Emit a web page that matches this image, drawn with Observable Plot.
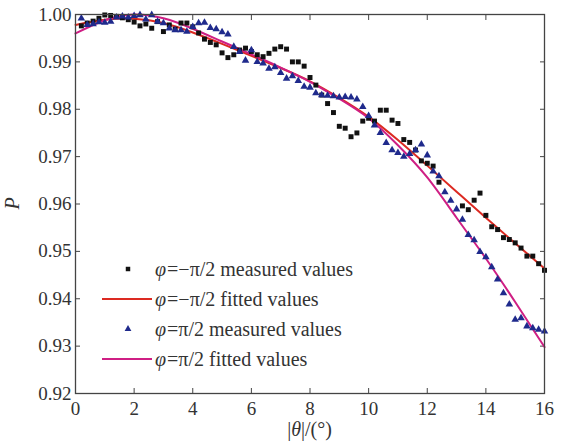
<!DOCTYPE html>
<html><head><meta charset="utf-8">
<script src="https://cdn.jsdelivr.net/npm/d3@7"></script>
<script src="https://cdn.jsdelivr.net/npm/@observablehq/plot@0.6"></script>
<style>
html,body{margin:0;padding:0;background:#fff;}
#chart{position:relative;width:563px;height:444px;font-family:"Liberation Serif","Times New Roman",serif;color:#333;}
#legend{position:absolute;left:98px;top:254px;font-size:20px;}
#legend .row{display:flex;align-items:center;height:30px;white-space:nowrap;}
#legend svg{flex:none;}
#legend span{margin-left:1px;}
</style>
</head><body>
<div id="chart"><div id="legend"></div></div>
<script>
// tick values
const xTicks = [0, 2, 4, 6, 8, 10, 12, 14, 16];
const yTicks = [0.92, 0.93, 0.94, 0.95, 0.96, 0.97, 0.98, 0.99, 1.00];

// φ = −π/2 measured values
const negX = [0.2,0.4,0.6,0.8,1.0,1.2,1.4,1.6,1.8,2.0,
  2.2,2.4,2.6,2.8,3.0,3.2,3.4,3.6,3.8,4.0,
  4.2,4.4,4.6,4.8,5.0,5.2,5.4,5.6,5.8,6.0,
  6.2,6.4,6.6,6.8,7.0,7.2,7.4,7.6,7.8,8.0,
  8.2,8.4,8.6,8.8,9.0,9.2,9.4,9.6,9.8,10.0,
  10.2,10.4,10.6,10.8,11.0,11.2,11.4,11.6,11.8,12.0,
  12.2,12.4,13.2,13.4,13.6,13.8,14.0,14.2,14.4,14.6,
  14.8,15.0,15.2,15.4,15.6,15.8,16.0];
const negP = [0.9976,0.9982,0.9986,0.9992,0.9999,0.9998,0.9996,0.9993,0.9989,0.9984,
  0.9976,0.9980,0.9971,0.9985,0.9964,0.9978,0.9969,0.9982,0.9982,0.9974,
  0.9961,0.9948,0.9941,0.9936,0.9919,0.9909,0.9915,0.9925,0.9929,0.9922,
  0.9915,0.9911,0.9918,0.9927,0.9932,0.9927,0.9900,0.9900,0.9891,0.9867,
  0.9851,0.9830,0.9812,0.9793,0.9764,0.9760,0.9742,0.9750,0.9775,0.9781,
  0.9775,0.9798,0.9798,0.9777,0.9770,0.9736,0.9730,0.9714,0.9691,0.9686,
  0.9680,0.9646,0.9596,0.9588,0.9608,0.9623,0.9576,0.9552,0.9546,0.9529,
  0.9525,0.9518,0.9507,0.9490,0.9490,0.9474,0.9460];

// φ = π/2 measured values
const posX = [0.2,0.4,0.6,0.8,1.0,1.2,1.4,1.6,1.8,2.0,
  2.2,2.4,2.6,2.8,3.0,3.2,3.4,3.6,3.8,4.0,
  4.2,4.4,4.6,4.8,5.0,5.2,5.4,5.6,5.8,6.0,
  6.2,6.4,6.6,6.8,7.0,7.2,7.4,7.6,7.8,8.0,
  8.2,8.4,8.6,8.8,9.0,9.2,9.4,9.6,9.8,10.0,
  10.2,10.4,10.6,10.8,11.0,11.2,11.4,11.6,11.8,12.0,
  12.2,12.4,12.6,12.8,13.0,13.2,13.4,13.6,13.8,14.0,
  14.2,14.4,14.6,14.8,15.0,15.2,15.4,15.6,15.8,16.0];
const posP = [0.9992,0.9978,0.9980,0.9984,0.9983,0.9985,0.9994,0.9996,0.9994,0.9997,
  0.9999,0.9990,0.9999,0.9985,0.9982,0.9971,0.9967,0.9967,0.9964,0.9974,
  0.9982,0.9983,0.9972,0.9969,0.9963,0.9958,0.9932,0.9921,0.9903,0.9925,
  0.9900,0.9897,0.9886,0.9889,0.9877,0.9865,0.9870,0.9860,0.9848,0.9846,
  0.9834,0.9830,0.9829,0.9828,0.9825,0.9826,0.9825,0.9821,0.9805,0.9786,
  0.9766,0.9750,0.9729,0.9714,0.9708,0.9700,0.9706,0.9714,0.9726,0.9703,
  0.9669,0.9659,0.9625,0.9607,0.9589,0.9567,0.9535,0.9524,0.9499,0.9488,
  0.9467,0.9441,0.9412,0.9388,0.9356,0.9359,0.9342,0.9338,0.9335,0.9331];

// fitted curves, read at whole degrees
const fitX = [0,1,2,3,4,5,6,7,8,9,10,11,12,13,14,15,16];
const negFitP = [0.9978,0.9989,0.9991,0.9982,0.9962,0.9938,0.9913,0.9887,0.9859,0.9824,0.9784,0.9735,0.9681,0.9626,0.9571,0.9517,0.9464];
const posFitP = [0.9960,0.9988,1.0000,0.9992,0.9970,0.9943,0.9916,0.9888,0.9858,0.9822,0.9781,0.9724,0.9656,0.9571,0.9485,0.9393,0.9298];

const seriesLabels = ["φ=−π/2 measured values", "φ=−π/2 fitted values", "φ=π/2 measured values", "φ=π/2 fitted values"];

const colSquare = "#111111";
const colRed = "#dc2a22";
const colTri = "#1f2a8c";
const colMag = "#cf1f84";

const negPts = negX.map((x, i) => ({x, p: negP[i]}));
const posPts = posX.map((x, i) => ({x, p: posP[i]}));
const negFit = fitX.map((x, i) => ({x, p: negFitP[i]}));
const posFit = fitX.map((x, i) => ({x, p: posFitP[i]}));

const axisCol = "#444";
const plot = Plot.plot({
  width: 563, height: 444,
  marginLeft: 75, marginRight: 19, marginTop: 14, marginBottom: 51,
  x: {domain: [0, 16]},
  y: {domain: [0.92, 1.00]},
  style: {fontFamily: "'Liberation Serif','Times New Roman',serif", fontSize: "19px", color: "#333", background: "#fff", overflow: "visible"},
  marks: [
    Plot.axisX(xTicks, {anchor: "bottom", tickSize: -5, tickPadding: 13, tickFormat: d => String(d), label: null, stroke: axisCol, fill: "#333"}),
    Plot.axisX(xTicks, {anchor: "top", tickSize: -5, tickFormat: () => "", label: null, stroke: axisCol}),
    Plot.axisY(yTicks, {anchor: "left", tickSize: -5, tickPadding: 9, tickFormat: d => d.toFixed(2), label: null, stroke: axisCol, fill: "#333"}),
    Plot.axisY(yTicks, {anchor: "right", tickSize: -5, tickFormat: () => "", label: null, stroke: axisCol}),
    Plot.line(negFit, {x: "x", y: "p", stroke: colRed, strokeWidth: 2, curve: "natural"}),
    Plot.line(posFit, {x: "x", y: "p", stroke: colMag, strokeWidth: 2, curve: "natural"}),
    Plot.dot(negPts, {x: "x", y: "p", symbol: "square", r: 2.8, fill: colSquare}),
    Plot.dot(posPts, {x: "x", y: "p", symbol: "triangle", r: 2.8, fill: colTri}),
    Plot.frame({stroke: axisCol, strokeWidth: 1.3})
  ]
});

// axis titles with italic parts
const svg = d3.select(plot);
const xr = plot.scale("x").range, yr = plot.scale("y").range;
const xt = svg.append("text")
  .attr("x", (xr[0] + xr[1]) / 2).attr("y", 436)
  .attr("text-anchor", "middle")
  .attr("fill", "#333").style("font-size", "20px");
xt.append("tspan").text("|");
xt.append("tspan").style("font-style", "italic").text("θ");
xt.append("tspan").text("|/(°)");
svg.append("text")
  .attr("transform", `translate(19,${(yr[0] + yr[1]) / 2}) rotate(-90)`)
  .attr("text-anchor", "middle")
  .attr("fill", "#333").style("font-size", "20px").style("font-style", "italic")
  .text("P");

const chart = document.getElementById("chart");
chart.insertBefore(plot, chart.firstChild);

// legend
const legend = d3.select("#legend");
const kinds = [
  {type: "square", color: colSquare},
  {type: "line", color: colRed},
  {type: "triangle", color: colTri},
  {type: "line", color: colMag}
];
kinds.forEach((k, i) => {
  const row = legend.append("div").attr("class", "row");
  const s = row.append("svg").attr("width", 56).attr("height", 30);
  if (k.type === "line") {
    s.append("line").attr("x1", 4).attr("x2", 54).attr("y1", 15).attr("y2", 15)
      .attr("stroke", k.color).attr("stroke-width", 2);
  } else {
    s.append("path").attr("transform", "translate(30,15)")
      .attr("d", d3.symbol(k.type === "square" ? d3.symbolSquare : d3.symbolTriangle, 20)())
      .attr("fill", k.color);
  }
  const t = row.append("span");
  const label = seriesLabels[i];
  t.append("i").text(label.slice(0, 1));
  t.append("span").text(label.slice(1));
});
</script>
</body></html>
